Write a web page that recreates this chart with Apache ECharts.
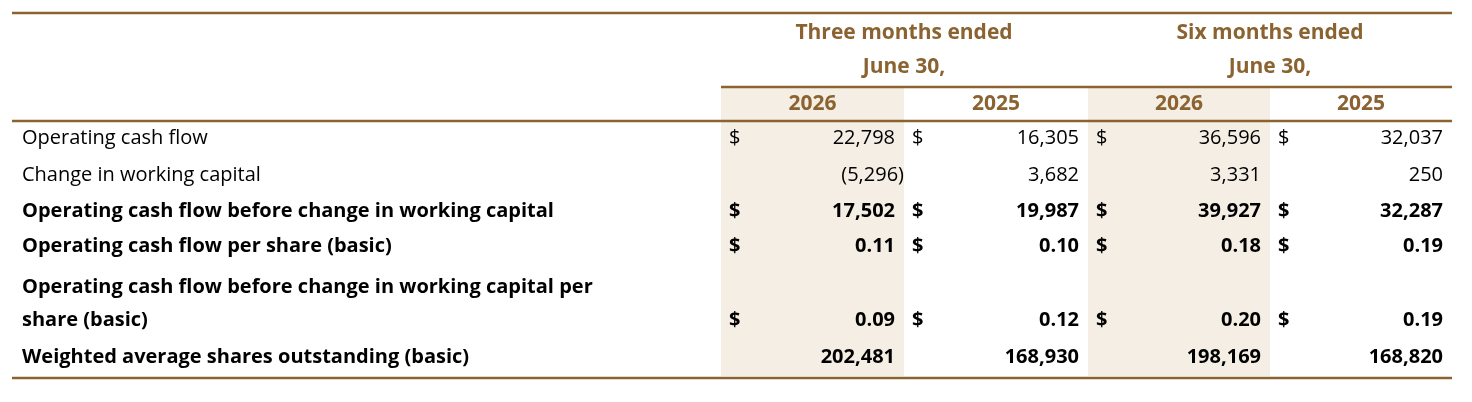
<!DOCTYPE html><html><head><meta charset="utf-8"><script src="https://cdn.jsdelivr.net/npm/echarts@6/dist/echarts.min.js"></script>
<style>body{margin:0}#c{width:1472px;height:402px}</style></head><body><div id="c"></div><script>
const groupHeaders=[["Three months ended","June 30,"],["Six months ended","June 30,"]];
const years=["2026","2025","2026","2025"];
const rowLabels=[["Operating cash flow"],["Change in working capital"],["Operating cash flow before change in working capital"],["Operating cash flow per share (basic)"],["Operating cash flow before change in working capital per","share (basic)"],["Weighted average shares outstanding (basic)"]];
const rowBold=[false,false,true,true,true,true];
const rowDollar=[true,false,true,true,true,false];
const values=[["22,798","16,305","36,596","32,037"],["(5,296)","3,682","3,331","250"],["17,502","19,987","39,927","32,287"],["0.11","0.10","0.18","0.19"],["0.09","0.12","0.20","0.19"],["202,481","168,930","198,169","168,820"]];
const brown='#8B6331', shade='#F5EEE5', F='"Open Sans", sans-serif';
const colL=[721,904,1088,1270], colR=[904,1088,1270,1452];
const rowY=[138,175,211,246,320,357];
const g=[];
[0,2].forEach(i=>g.push({type:'rect',shape:{x:colL[i],y:88,width:colR[i]-colL[i],height:288},style:{fill:shade}}));
const line=(x1,x2,y,w)=>g.push({type:'line',shape:{x1,y1:y,x2,y2:y},style:{stroke:brown,lineWidth:w}});
line(12,1452,13,2.5);line(721,1452,87,2.5);line(12,1452,121,2.5);line(12,1452,378,2.5);
groupHeaders.forEach((h,i)=>{const cx=i?1270:904;
 g.push({type:'text',style:{text:h[0],x:cx,y:33,align:'center',verticalAlign:'middle',font:'bold 21px '+F,fill:brown}});
 g.push({type:'text',style:{text:h[1],x:cx,y:67,align:'center',verticalAlign:'middle',font:'bold 21px '+F,fill:brown}});});
years.forEach((y,i)=>g.push({type:'text',style:{text:y,x:(colL[i]+colR[i])/2,y:104,align:'center',verticalAlign:'middle',font:'bold 21px '+F,fill:brown}}));
rowLabels.forEach((l,r)=>{const f=(rowBold[r]?'bold ':'')+'20px '+F;
 l.forEach((t,k)=>g.push({type:'text',style:{text:t,x:22,y:rowY[r]-(l.length-1-k)*33,align:'left',verticalAlign:'middle',font:f,fill:'#000'}}));
 values[r].forEach((v,c)=>{
  if(rowDollar[r]) g.push({type:'text',style:{text:'$',x:colL[c]+8,y:rowY[r],align:'left',verticalAlign:'middle',font:f,fill:'#000'}});
  const paren=v.endsWith(')');
  g.push({type:'text',style:{text:v,x:colR[c]-(paren?0:9),y:rowY[r],align:'right',verticalAlign:'middle',font:f,fill:'#000'}});});});
const ch=echarts.init(document.getElementById('c'));
ch.setOption({animation:false,graphic:g});
</script></body></html>
